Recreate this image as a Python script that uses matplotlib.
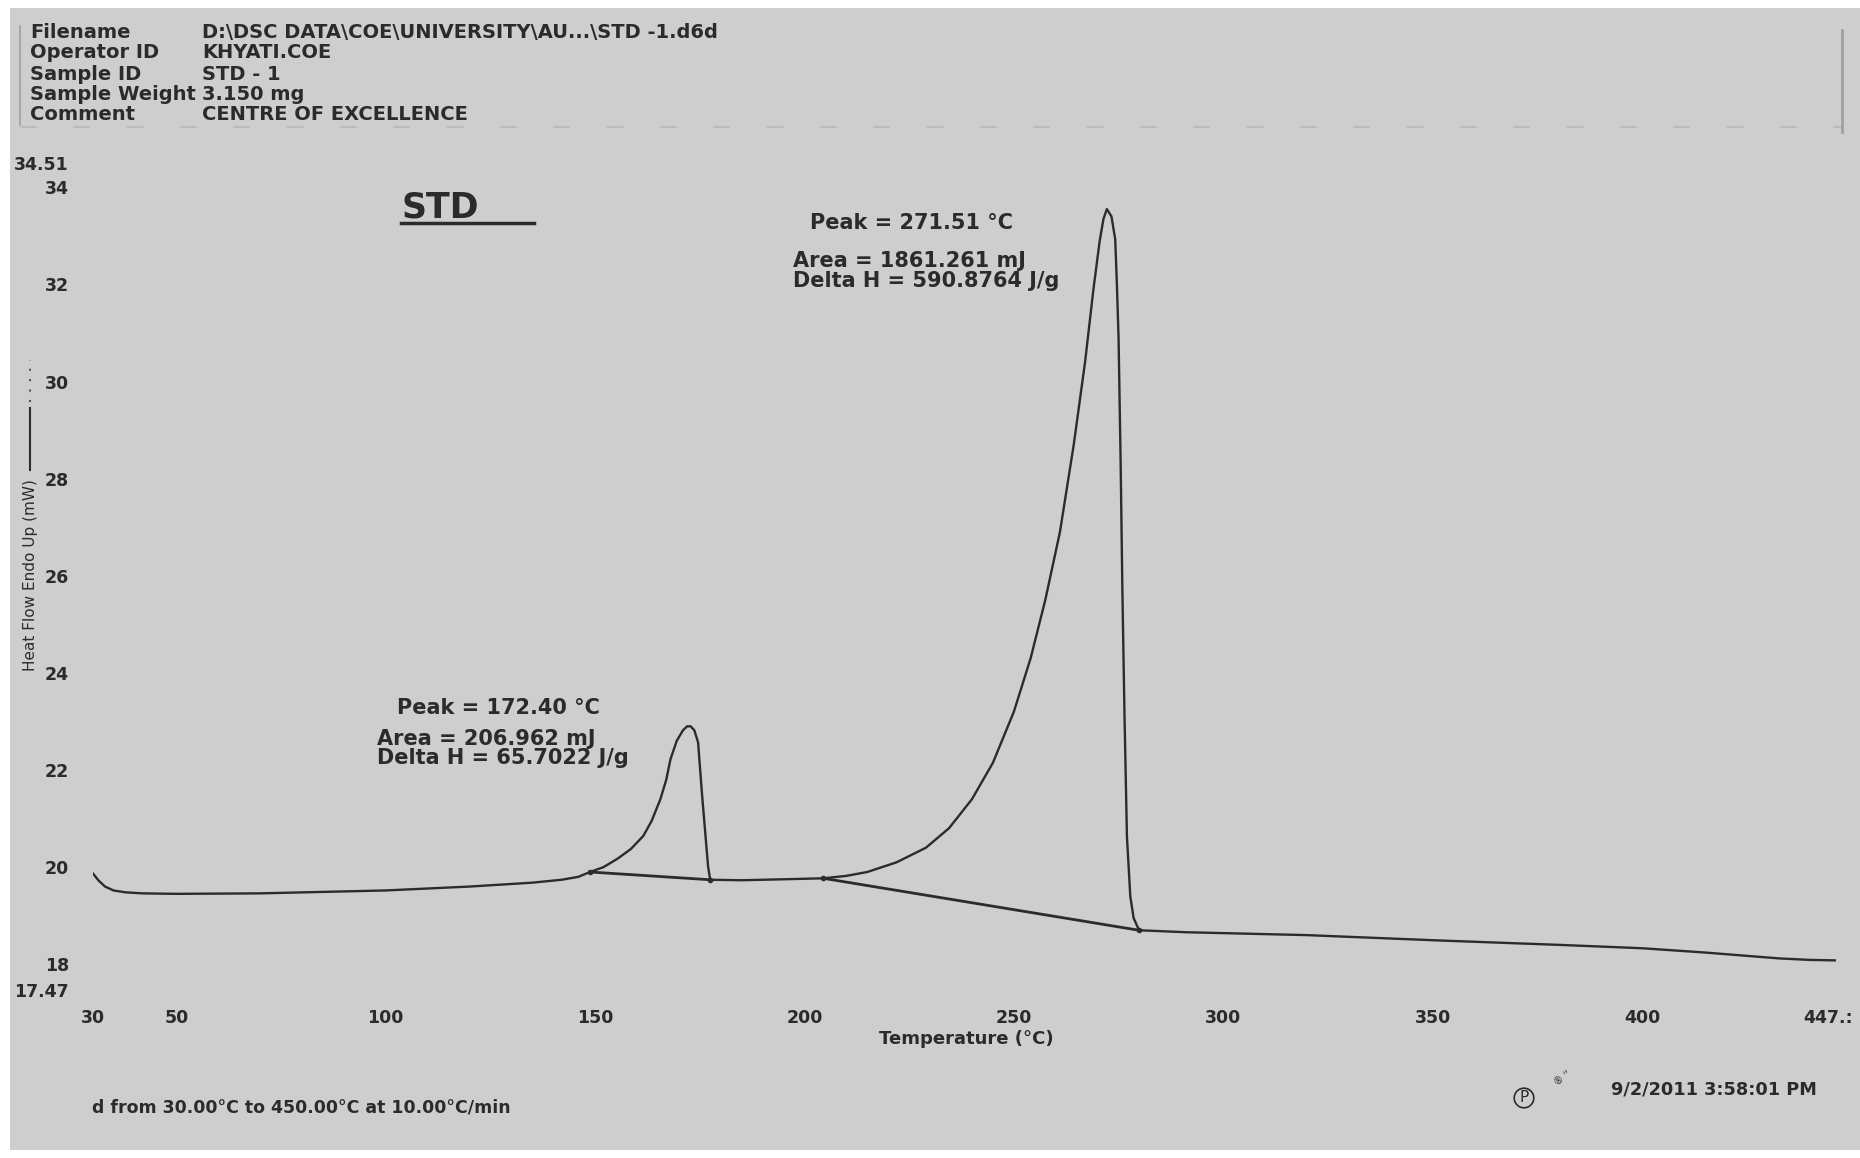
import matplotlib
matplotlib.use("Agg")
import matplotlib.pyplot as plt
from matplotlib.patches import Rectangle
from matplotlib.lines import Line2D
from matplotlib.transforms import ScaledTranslation

# ---------------- data ----------------
temperature = [30, 31.5, 33, 35, 38, 42, 50, 70, 100, 120, 135, 142, 146, 148.8,
               152, 155.3, 158.5, 161.5, 163.5, 165.6, 167, 168.0, 169.5, 171, 172.0, 172.8,
               173.7, 174.6, 175.5, 176.5, 177.0, 177.5,
               185, 195, 204.5, 210, 215, 222, 229, 234.5, 240, 245, 250, 254, 257.5, 261,
               264.3, 267, 269, 270.5, 271.4, 272.2, 273.3, 274.2, 274.6, 275.0,
               275.5, 275.9, 276.4, 277.0, 277.8, 278.6, 279.9,
               291, 320, 351.5, 380, 400, 415.3, 432.8, 440, 446]
heat_flow = [19.88, 19.72, 19.6, 19.52, 19.48, 19.46, 19.45, 19.46, 19.52, 19.6, 19.68, 19.74, 19.8, 19.9,
             20.0, 20.17, 20.37, 20.64, 20.95, 21.40, 21.8, 22.22, 22.6, 22.82, 22.9, 22.9,
             22.82, 22.57, 21.54, 20.51, 20.0, 19.74,
             19.73, 19.75, 19.77, 19.82, 19.9, 20.1, 20.4, 20.8, 21.4, 22.15, 23.2, 24.3, 25.5, 26.9,
             28.7, 30.4, 31.9, 32.9, 33.35, 33.55, 33.4, 32.93, 32.0, 30.9,
             28.3, 25.76, 23.2, 20.63, 19.4, 18.95, 18.70,
             18.66, 18.6, 18.49, 18.4, 18.33, 18.24, 18.12, 18.09, 18.08]

baseline1_t = [148.8, 177.5]
baseline1_hf = [19.9, 19.74]
baseline2_t = [204.5, 279.9]
baseline2_hf = [19.77, 18.70]

x_ticks = [30, 50, 100, 150, 200, 250, 300, 350, 400, 447.5]
x_tick_labels = ["30", "50", "100", "150", "200", "250", "300", "350", "400", "447.:"]
y_ticks = [17.47, 18, 20, 22, 24, 26, 28, 30, 32, 34, 34.51]
y_tick_labels = ["17.47", "18", "20", "22", "24", "26", "28", "30", "32", "34", "34.51"]

header_keys = ["Filename", "Operator ID", "Sample ID", "Sample Weight", "Comment"]
header_vals = ["D:\\DSC DATA\\COE\\UNIVERSITY\\AU...\\STD -1.d6d", "KHYATI.COE", "STD - 1",
               "3.150 mg", "CENTRE OF EXCELLENCE"]

peak1_text = ["Peak = 172.40 °C", "Area = 206.962 mJ", "Delta H = 65.7022 J/g"]
peak2_text = ["Peak = 271.51 °C", "Area = 1861.261 mJ", "Delta H = 590.8764 J/g"]

# ---------------- figure ----------------
W, H = 1860, 1158
BG = "#cecece"
INK = "#2b2b2b"
FONT = "DejaVu Sans"

fig = plt.figure(figsize=(W / 100, H / 100), dpi=100, facecolor="white")

def fx(x):
    return x / W

def fy(y):
    return 1 - y / H

fig.patches.append(Rectangle((fx(10), fy(1150)), fx(1860) - fx(10), fy(8) - fy(1150),
                             transform=fig.transFigure, facecolor=BG, edgecolor="none", zorder=-10))

ax_l, ax_r, ax_t, ax_b = 92.5, 1841, 162.5, 990
ax = fig.add_axes([fx(ax_l), fy(ax_b), fx(ax_r) - fx(ax_l), fy(ax_t) - fy(ax_b)])
ax.set_facecolor("none")
for s in ax.spines.values():
    s.set_visible(False)

ax.plot(temperature, heat_flow, color=INK, lw=1.7, solid_joinstyle="round")
ax.plot(baseline1_t, baseline1_hf, color=INK, lw=2.0)
ax.plot(baseline2_t, baseline2_hf, color=INK, lw=2.0)
ax.plot(baseline1_t + baseline2_t, baseline1_hf + baseline2_hf, "o", color=INK, ms=3)

ax.set_xlim(30, 447.5)
ax.set_ylim(17.47, 34.51)
ax.set_xticks(x_ticks)
ax.set_xticklabels(x_tick_labels, fontfamily=FONT, fontsize=12.5, fontweight="bold", color=INK)
ax.set_yticks(y_ticks)
ax.set_yticklabels(y_tick_labels, fontfamily=FONT, fontsize=12.5, fontweight="bold", color=INK)
ax.tick_params(axis="x", length=0, pad=14)
ax.tick_params(axis="y", length=0, pad=17)
last = ax.get_xticklabels()[-1]
last.set_horizontalalignment("right")
last.set_transform(last.get_transform() + ScaledTranslation(0.12, 0, fig.dpi_scale_trans))

ax.set_xlabel("Temperature (°C)", fontfamily=FONT, fontsize=13, fontweight="bold", color=INK,
              labelpad=2)

# y label with legend-style line
fig.text(fx(30), fy(575), "Heat Flow Endo Up (mW)", rotation=90, ha="center", va="center",
         fontfamily=FONT, fontsize=11, color=INK)
fig.add_artist(Line2D([fx(30), fx(30)], [fy(470), fy(408)], transform=fig.transFigure,
                      color=INK, lw=1.5))
fig.add_artist(Line2D([fx(30), fx(30)], [fy(402), fy(360)], transform=fig.transFigure,
                      color="#555555", lw=1.5, ls=(0, (1, 4))))

# header
rows_y = [33, 53, 74, 94, 114]
for k, v, yy in zip(header_keys, header_vals, rows_y):
    fig.text(fx(30), fy(yy), k, ha="left", va="center", fontfamily=FONT, fontsize=14,
             fontweight="bold", color=INK)
    fig.text(fx(202), fy(yy), v, ha="left", va="center", fontfamily=FONT, fontsize=14,
             fontweight="bold", color=INK)
fig.add_artist(Line2D([fx(20), fx(20)], [fy(26), fy(125)], transform=fig.transFigure,
                      color="#a0a0a0", lw=1.2))
fig.add_artist(Line2D([fx(20), fx(1842)], [fy(127), fy(127)], transform=fig.transFigure,
                      color="#b8b8b8", lw=1.2, ls=(0, (10, 22))))
fig.add_artist(Line2D([fx(1842), fx(1842)], [fy(30), fy(132)], transform=fig.transFigure,
                      color="#a0a0a0", lw=2))

# STD label
fig.text(fx(401), fy(208), "STD", ha="left", va="center", fontfamily=FONT, fontsize=25,
         fontweight="bold", color=INK)
fig.add_artist(Line2D([fx(401), fx(534)], [fy(223), fy(223)], transform=fig.transFigure,
                      color=INK, lw=2.5))

# peak annotations
ann_kw = dict(ha="left", va="center", fontfamily=FONT, fontsize=15, fontweight="bold", color=INK)
fig.text(fx(810), fy(223), peak2_text[0], **ann_kw)
fig.text(fx(793), fy(261), peak2_text[1], **ann_kw)
fig.text(fx(793), fy(281), peak2_text[2], **ann_kw)
fig.text(fx(397), fy(708), peak1_text[0], **ann_kw)
fig.text(fx(377), fy(739), peak1_text[1], **ann_kw)
fig.text(fx(377), fy(758), peak1_text[2], **ann_kw)

# bottom texts
fig.text(fx(92), fy(1107), "d from 30.00°C to 450.00°C at 10.00°C/min", ha="left", va="center",
         fontfamily=FONT, fontsize=12.5, fontweight="bold", color=INK)
fig.text(fx(1611), fy(1089), "9/2/2011 3:58:01 PM", ha="left", va="center",
         fontfamily=FONT, fontsize=12.8, fontweight="bold", color=INK)
fig.text(fx(1524), fy(1098), "P", ha="center", va="center", fontfamily=FONT, fontsize=11, color=INK,
         bbox=dict(boxstyle="circle,pad=0.15", fc="none", ec=INK, lw=1.2))
fig.text(fx(1552), fy(1078), "® ''", ha="left", va="center", fontfamily=FONT, fontsize=7,
         color=INK, rotation=35)

fig.savefig("out.png", dpi=100, facecolor="white")
